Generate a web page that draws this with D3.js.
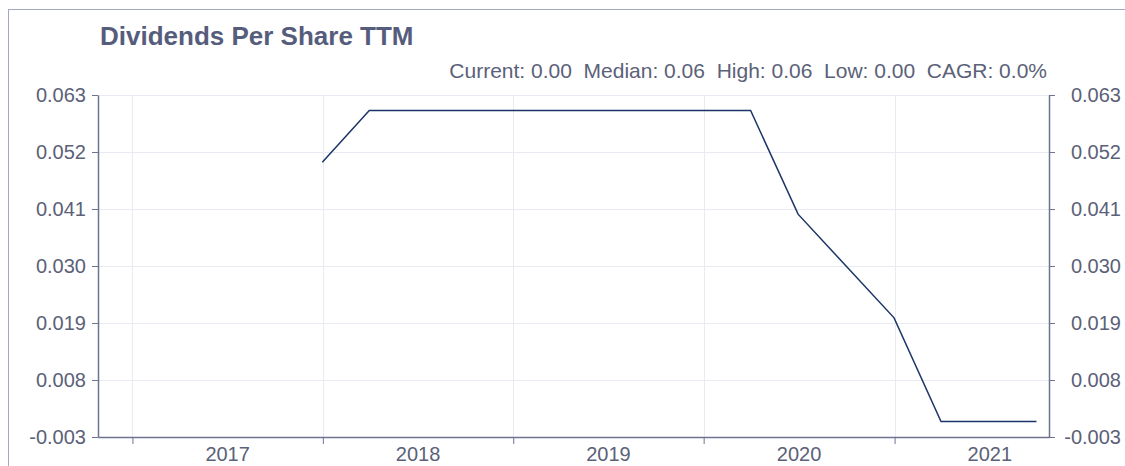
<!DOCTYPE html>
<html>
<head>
<meta charset="utf-8">
<script src="https://cdn.jsdelivr.net/npm/d3@7"></script>
<style>
  body { margin: 0; background: #fff; }
  svg { display: block; font-family: "Liberation Sans", Arial, sans-serif; }
</style>
</head>
<body>
<div id="chart"></div>
<script>
// quarterly dividends per share, trailing twelve months
const dates = ["2017-12-31", "2018-03-31", "2018-06-30", "2018-09-30", "2018-12-31",
               "2019-03-31", "2019-06-30", "2019-09-30", "2019-12-31", "2020-03-31",
               "2020-06-30", "2020-09-30", "2020-12-31", "2021-03-31", "2021-06-30",
               "2021-09-30"];
const dps = [0.05, 0.06, 0.06, 0.06, 0.06,
             0.06, 0.06, 0.06, 0.06, 0.06,
             0.04, 0.03, 0.02, 0.0, 0.0,
             0.0];
const yTicks = [-0.003, 0.008, 0.019, 0.030, 0.041, 0.052, 0.063];
const years = [2017, 2018, 2019, 2020, 2021];
const statsText = "Current: 0.00  Median: 0.06  High: 0.06  Low: 0.00  CAGR: 0.0%";

var width = 1125, height = 466;
var margin = {top: 95, right: 76, bottom: 29, left: 98};

var parse = d3.timeParse("%Y-%m-%d");
var data = dates.map((d, i) => ({date: parse(d), value: dps[i]}));

var svg = d3.select("#chart").append("svg")
    .attr("width", width)
    .attr("height", height);

// outer frame
svg.append("rect")
    .attr("x", 8.5).attr("y", 9.5)
    .attr("width", width + 20).attr("height", height + 20)
    .attr("fill", "none")
    .attr("stroke", "#a3a8be")
    .attr("stroke-width", 1);

var x = d3.scaleTime()
    .domain([new Date(2016, 9, 27), new Date(2021, 9, 24)])
    .range([margin.left, width - margin.right]);

var y = d3.scaleLinear()
    .domain([-0.003, 0.063])
    .range([height - margin.bottom, margin.top]);

var axisColor = "#6e7390";
var textColor = "#5b6178";

// gridlines
svg.append("g").selectAll("line")
    .data(yTicks)
    .enter().append("line")
    .attr("x1", margin.left).attr("x2", width - margin.right)
    .attr("y1", d => Math.round(y(d)) + 0.5).attr("y2", d => Math.round(y(d)) + 0.5)
    .attr("stroke", "#e9ebf3");

var yearStarts = years.map(yr => new Date(yr, 0, 1));
svg.append("g").selectAll("line")
    .data(yearStarts)
    .enter().append("line")
    .attr("x1", d => Math.round(x(d)) + 0.5).attr("x2", d => Math.round(x(d)) + 0.5)
    .attr("y1", margin.top).attr("y2", height - margin.bottom)
    .attr("stroke", "#e9ebf3");

// axes
var fmt = d3.formatLocale({decimal: ".", thousands: ",", grouping: [3], currency: ["", ""], minus: "-"}).format(".3f");
var left = svg.append("g")
    .attr("transform", "translate(" + margin.left + ",0)")
    .call(d3.axisLeft(y).tickValues(yTicks).tickFormat(fmt).tickSize(6).tickSizeOuter(0));
var right = svg.append("g")
    .attr("transform", "translate(" + (width - margin.right) + ",0)")
    .call(d3.axisRight(y).tickValues(yTicks).tickFormat(fmt).tickSize(6).tickSizeOuter(0));
var bottom = svg.append("g")
    .attr("transform", "translate(0," + (height - margin.bottom) + ")")
    .call(d3.axisBottom(x).tickValues(yearStarts).tickFormat("").tickSize(7).tickSizeOuter(0));

[left, right, bottom].forEach(g => {
    g.select(".domain").attr("stroke", axisColor).attr("stroke-width", 1.5);
    g.selectAll(".tick line").attr("stroke", axisColor);
    g.selectAll(".tick text")
        .attr("fill", textColor)
        .style("font-size", "20px")
        .style("font-family", "'Liberation Sans', Arial, sans-serif");
});
left.selectAll(".tick text").attr("x", -12);
right.selectAll(".tick text").attr("x", 72).attr("text-anchor", "end");

// year labels centred within each year
svg.append("g").selectAll("text")
    .data(years)
    .enter().append("text")
    .attr("x", d => (x(new Date(d, 0, 1)) + x(new Date(d + 1, 0, 1))) / 2)
    .attr("y", 461)
    .attr("text-anchor", "middle")
    .attr("fill", textColor)
    .style("font-size", "20px")
    .text(d => d);

// line
var line = d3.line()
    .x(d => x(d.date))
    .y(d => y(d.value));

svg.append("path")
    .datum(data)
    .attr("fill", "none")
    .attr("stroke", "#1b3568")
    .attr("stroke-width", 1.5)
    .attr("d", line);

// title and stats
svg.append("text")
    .attr("x", 100).attr("y", 45)
    .attr("fill", "#565d7c")
    .style("font-size", "26px")
    .style("font-weight", "bold")
    .text("Dividends Per Share TTM");

svg.append("text")
    .attr("x", 1047).attr("y", 78)
    .attr("text-anchor", "end")
    .attr("fill", textColor)
    .style("font-size", "21px")
    .style("white-space", "pre")
    .attr("xml:space", "preserve")
    .text(statsText);
</script>
</body>
</html>
